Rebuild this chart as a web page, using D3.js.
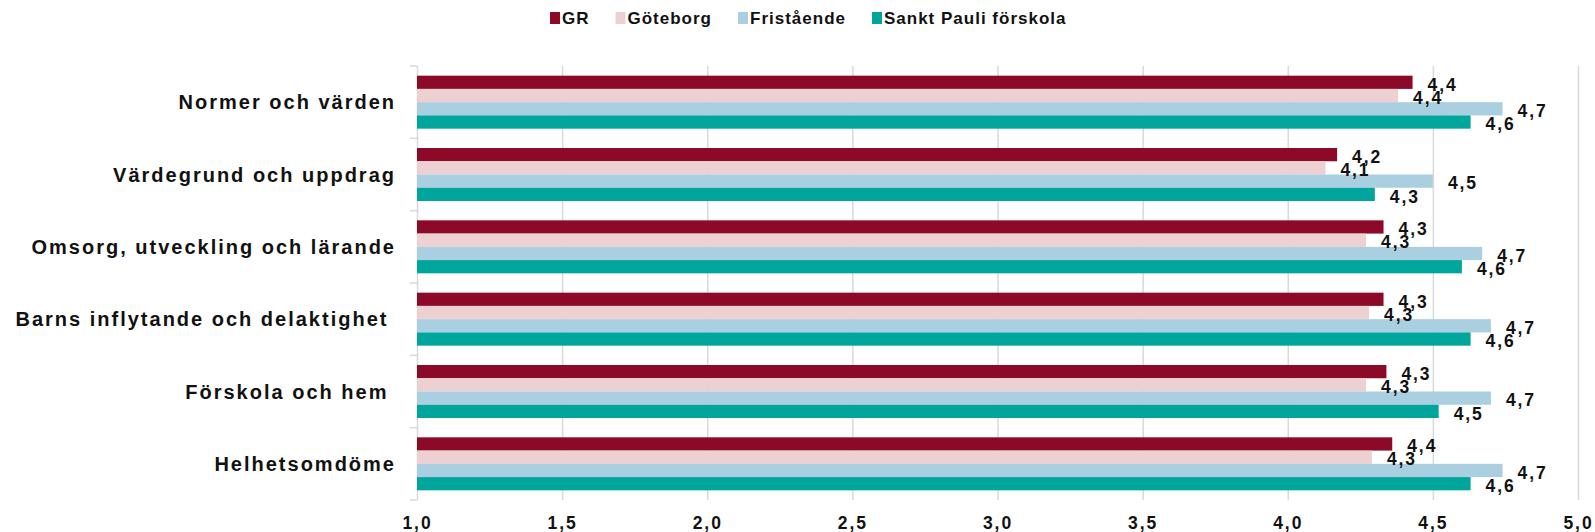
<!DOCTYPE html>
<meta charset="utf-8">
<style>
    body { margin: 0; background: #fff; }
    text { font-family: "Liberation Sans", Arial, sans-serif; font-weight: bold; fill: #111; }
    .grid line { stroke: #d9d9d9; stroke-width: 1.5; }
    .cat { font-size: 20px; letter-spacing: 2.0px; white-space: pre; }
    .val { font-size: 17.5px; letter-spacing: 1.9px; }
    .leg { font-size: 17px; letter-spacing: 1.0px; }
</style>
<body>

    <div id="chart"></div>

    <script src="https://d3js.org/d3.v7.min.js"></script>

    <script type="text/javascript">

        // data
        var categories = [
            "Normer och värden",
            "Värdegrund och uppdrag",
            "Omsorg, utveckling och lärande",
            "Barns inflytande och delaktighet ",
            "Förskola och hem ",
            "Helhetsomdöme"
        ];
        var seriesNames = ["GR", "Göteborg", "Fristående", "Sankt Pauli förskola"];
        var seriesColors = ["#8c0a28", "#edd0d1", "#aacfe1", "#00a59b"];

        var grValues        = [4.43, 4.17, 4.33, 4.33, 4.34, 4.36];
        var goteborgValues  = [4.38, 4.13, 4.27, 4.28, 4.27, 4.29];
        var fristaendeValues = [4.74, 4.50, 4.67, 4.70, 4.70, 4.74];
        var sanktPauliValues = [4.63, 4.30, 4.60, 4.63, 4.52, 4.63];

        var xTicks = [1.0, 1.5, 2.0, 2.5, 3.0, 3.5, 4.0, 4.5, 5.0];

        var allSeries = [grValues, goteborgValues, fristaendeValues, sanktPauliValues];

        // dims
        var svg_dx = 1595,
            svg_dy = 532,
            plotLeft = 417,
            plotRight = 1578,
            plotTop = 66,
            plotBottom = 500;

        var x = d3.scaleLinear().domain([1, 5]).range([plotLeft, plotRight]);

        var y = d3.scaleBand().domain(categories).range([plotTop, plotBottom]);

        var ySeries = d3.scaleBand()
            .domain(seriesNames)
            .range([0, y.bandwidth()])
            .paddingOuter(0.73);

        var fmt = function (v) { return d3.format(".1f")(v).replace(".", ","); };

        var svg = d3.select("#chart")
            .append("svg")
            .attr("width", svg_dx)
            .attr("height", svg_dy);

        // vertical grid + bottom axis labels
        var xAxis = svg.append("g")
            .attr("class", "grid")
            .attr("transform", "translate(0," + plotBottom + ")")
            .call(d3.axisBottom(x)
                .tickValues(xTicks)
                .tickSize(-(plotBottom - plotTop))
                .tickPadding(17)
                .tickFormat(fmt));

        xAxis.select(".domain").remove();
        xAxis.selectAll("text")
            .attr("class", "val")
            .attr("fill", "#111")
            .attr("font-family", null)
            .attr("font-size", null);

        // left tick marks at band boundaries
        var boundaries = categories.map(function (c) { return y(c); }).concat([plotBottom]);

        svg.append("g")
            .attr("class", "grid")
            .selectAll("line")
            .data(boundaries)
            .enter()
            .append("line")
            .attr("x1", plotLeft - 7)
            .attr("x2", plotLeft)
            .attr("y1", function (d) { return d; })
            .attr("y2", function (d) { return d; });

        // category labels
        svg.append("g")
            .selectAll("text")
            .data(categories)
            .enter()
            .append("text")
            .attr("class", "cat")
            .attr("xml:space", "preserve")
            .attr("x", 396)
            .attr("y", function (d) { return y(d) + y.bandwidth() / 2; })
            .attr("dy", "0.36em")
            .attr("text-anchor", "end")
            .text(function (d) { return d; });

        // bars + labels
        var groups = svg.append("g")
            .selectAll("g")
            .data(categories)
            .enter()
            .append("g")
            .attr("transform", function (d) { return "translate(0," + y(d) + ")"; });

        groups.each(function (cat, ci) {

            var g = d3.select(this);

            var rows = seriesNames.map(function (s, si) {
                return { series: s, value: allSeries[si][ci], color: seriesColors[si] };
            });

            g.selectAll("rect")
                .data(rows)
                .enter()
                .append("rect")
                .attr("x", x(1))
                .attr("y", function (d) { return ySeries(d.series); })
                .attr("width", function (d) { return x(d.value) - x(1); })
                .attr("height", ySeries.bandwidth())
                .attr("fill", function (d) { return d.color; });

            g.selectAll("text")
                .data(rows)
                .enter()
                .append("text")
                .attr("class", "val")
                .attr("x", function (d) { return x(d.value) + 15; })
                .attr("y", function (d) { return ySeries(d.series) + ySeries.bandwidth() / 2 + 2; })
                .attr("dy", "0.36em")
                .text(function (d) { return fmt(d.value); });
        });

        // legend
        var legend = svg.append("g").attr("id", "legend");
        var lx = 550;

        seriesNames.forEach(function (s, i) {

            legend.append("rect")
                .attr("x", lx)
                .attr("y", 12)
                .attr("width", 10)
                .attr("height", 12)
                .attr("fill", seriesColors[i]);

            var t = legend.append("text")
                .attr("class", "leg")
                .attr("x", lx + 12)
                .attr("y", 18)
                .attr("dy", "0.36em")
                .text(s);

            lx = lx + 12 + t.node().getComputedTextLength() + 26;
        });

    </script>

</body>
